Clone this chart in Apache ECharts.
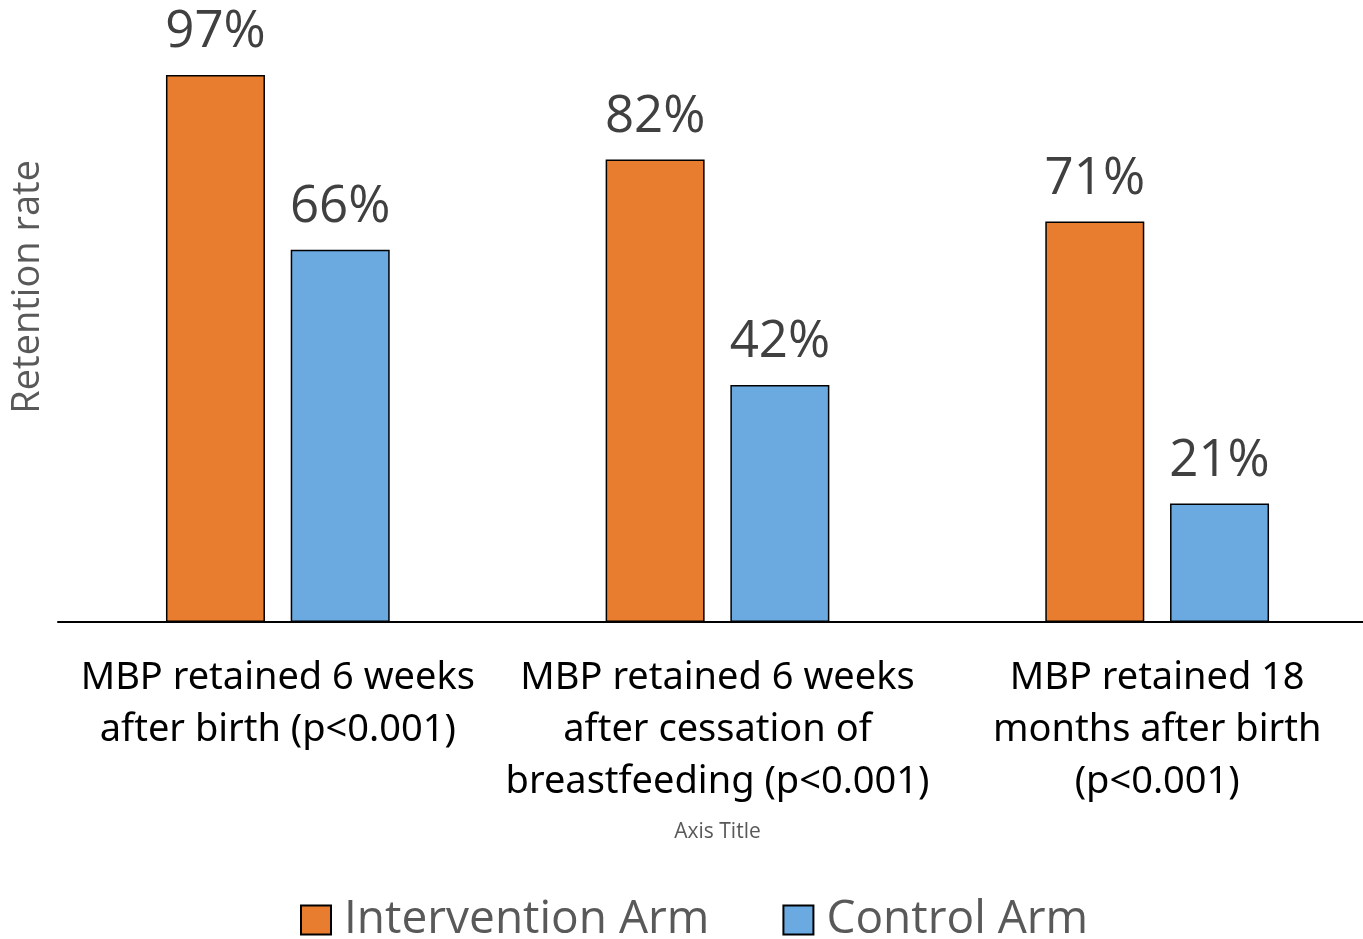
<!DOCTYPE html>
<html>
<head>
<meta charset="utf-8">
<script src="https://cdn.jsdelivr.net/npm/echarts@6/dist/echarts.min.js"></script>
<style>
  html, body { margin: 0; padding: 0; background: #fff; }
  #chart { width: 1363px; height: 939px; }
</style>
</head>
<body>
<div id="chart"></div>
<script>
  // categories and values
  var categories = [
    'MBP retained 6 weeks\nafter birth (p<0.001)',
    'MBP retained 6 weeks\nafter cessation of\nbreastfeeding (p<0.001)',
    'MBP retained 18\nmonths after birth\n(p<0.001)'
  ]
  var interventionArm = [97, 82, 71]
  var controlArm = [66, 42, 21]

  var chart = echarts.init(document.getElementById('chart'))
  var labelStyle = {
    show: true,
    position: 'top',
    distance: 17,
    formatter: '{c}%',
    fontFamily: 'Open Sans',
    fontSize: 51,
    color: '#404040'
  }
  chart.setOption({
    animation: false,
    grid: {
      left: 58,
      top: 58,
      width: 1319,
      height: 564,
      containLabel: false,
      outerBoundsMode: 'none'
    },
    legend: {
      top: 892,
      left: 295,
      icon: 'rect',
      itemWidth: 30,
      itemHeight: 29,
      itemGap: 73,
      textStyle: {
        fontFamily: 'Open Sans',
        fontSize: 46,
        color: '#595959',
        padding: [0, 0, 0, 8]
      },
      data: ['Intervention Arm', 'Control Arm']
    },
    graphic: [
      {
        type: 'text',
        left: 9,
        top: 160,
        rotation: Math.PI / 2,
        style: {
          text: 'Retention rate',
          fontFamily: 'Open Sans',
          fontSize: 38,
          fill: '#595959'
        }
      }
    ],
    xAxis: {
      type: 'category',
      data: categories,
      name: 'Axis Title',
      nameLocation: 'middle',
      nameGap: 200,
      nameTextStyle: {
        fontFamily: 'Open Sans',
        fontSize: 21,
        color: '#595959'
      },
      axisLine: { lineStyle: { color: '#000', width: 2 } },
      axisTick: { show: false },
      axisLabel: {
        interval: 0,
        margin: 30,
        fontFamily: 'Noto Sans',
        fontSize: 38,
        lineHeight: 52,
        color: '#000'
      }
    },
    yAxis: {
      type: 'value',
      min: 0,
      max: 100,
      show: false
    },
    series: [
      {
        name: 'Intervention Arm',
        type: 'bar',
        data: interventionArm,
        barWidth: 99,
        barGap: '26%',
        itemStyle: { color: '#E87D2F', borderColor: '#000', borderWidth: 1.5 },
        label: labelStyle
      },
      {
        name: 'Control Arm',
        type: 'bar',
        data: controlArm,
        barWidth: 99,
        itemStyle: { color: '#6AAAE0', borderColor: '#000', borderWidth: 1.5 },
        label: labelStyle
      }
    ]
  })
</script>
</body>
</html>
